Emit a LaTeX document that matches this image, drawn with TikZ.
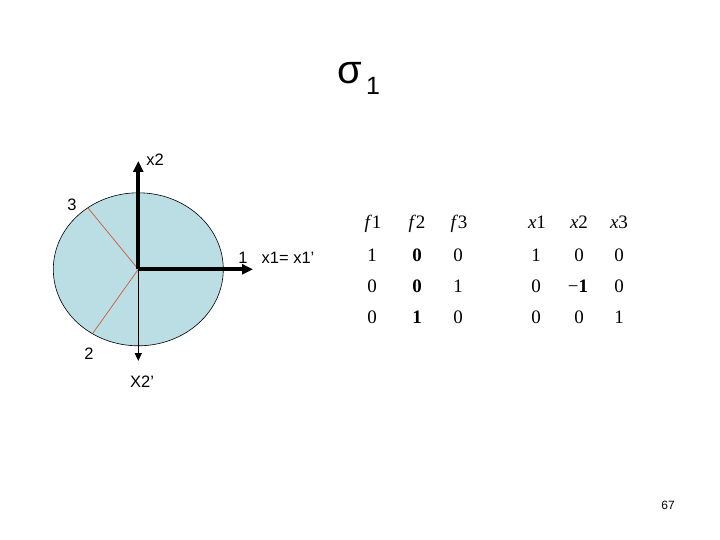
\documentclass[tikz,border=0pt]{standalone}
\usepackage{fontspec}
\setmainfont{Liberation Sans}
\newfontfamily\tabfont{Liberation Serif}
\usetikzlibrary{arrows.meta,shapes.geometric}
\definecolor{discblue}{RGB}{186,222,227}
\definecolor{cutred}{RGB}{204,90,60}
\newcommand{\tv}[3][0pt]{{\itshape #2}\kern#1#3}

\begin{document}
\begin{tikzpicture}[x=1pt,y=-1pt]
\tikzset{
  disc/.style={ellipse,draw=black,line width=0.6pt,fill=discblue,minimum width=170pt,minimum height=153pt,inner sep=0pt},
  cutline/.style={draw=cutred,line width=0.7pt},
  mainaxis/.style={draw=black,line width=4pt,-{Triangle[length=11pt,width=10pt]}},
  thinaxis/.style={draw=black,line width=1.5pt,-{Triangle[length=8pt,width=7pt]}},
  axislabel/.style={font=\fontsize{16.5}{16.5}\selectfont,inner sep=0pt,anchor=base},
  entry/.style={font=\tabfont\fontsize{19}{19}\selectfont,inner sep=0pt,anchor=base}
}
\useasboundingbox (0,0) rectangle (720,540);
% disc and axes
\node[disc] (n_disc) at (138.3,269.3) {};
\coordinate (n_o) at (138.3,269.3);
\coordinate (n_up) at (138.3,161);
\coordinate (n_right) at (253,269.3);
\coordinate (n_down) at (138.3,361);
\coordinate (n_cut_3) at (88,208);
\coordinate (n_cut_2) at (93,333);
\draw[cutline] (n_o) -- (n_cut_3);
\draw[cutline] (n_o) -- (n_cut_2);
\draw[thinaxis] (n_o) -- (n_down);
\draw[mainaxis] (n_o) -- (n_up);
\draw[mainaxis] (n_o) -- (n_right);
% labels
\node[axislabel] (l_x2) at (155,166) {x2};
\node[axislabel] (l_3) at (72,211) {3};
\node[axislabel] (l_1) at (243,263) {1};
\node[axislabel] (l_x1) at (288,263) {x1= x1’};
\node[axislabel] (l_2) at (89,359) {2};
\node[axislabel] (l_x2p) at (142,387) {X2’};
% title
\node[font=\fontsize{40}{40}\selectfont,anchor=base west,inner sep=0pt] (n_sigma) at (337,84) {σ};
\node[font=\fontsize{25}{25}\selectfont,anchor=base west,inner sep=0pt] (n_sub) at (366,95) {1};
% table
\node[entry] (t_f1) at (373,229) {\tv[2pt]{f}{1}};
\node[entry] (t_f2) at (417,229) {\tv[2pt]{f}{2}};
\node[entry] (t_f3) at (459,229) {\tv[2pt]{f}{3}};
\node[entry] (t_x1) at (537,229) {\tv{x}{1}};
\node[entry] (t_x2) at (579,229) {\tv{x}{2}};
\node[entry] (t_x3) at (619,229) {\tv{x}{3}};
\node[entry] (t_a11) at (372,261) {1};
\node[entry] (t_a12) at (417,261) {\textbf{0}};
\node[entry] (t_a13) at (458,261) {0};
\node[entry] (t_a21) at (372,292) {0};
\node[entry] (t_a22) at (417,292) {\textbf{0}};
\node[entry] (t_a23) at (458,292) {1};
\node[entry] (t_a31) at (372,323) {0};
\node[entry] (t_a32) at (417,323) {\textbf{1}};
\node[entry] (t_a33) at (458,323) {0};
\node[entry] (t_b11) at (536,261) {1};
\node[entry] (t_b12) at (579,261) {0};
\node[entry] (t_b13) at (619,261) {0};
\node[entry] (t_b21) at (536,292) {0};
\node[entry] (t_b22) at (578,292) {−\textbf{1}};
\node[entry] (t_b23) at (619,292) {0};
\node[entry] (t_b31) at (536,323) {0};
\node[entry] (t_b32) at (579,323) {0};
\node[entry] (t_b33) at (619,323) {1};
% page number
\node[font=\fontsize{12}{12}\selectfont,inner sep=0pt,anchor=base] (n_page) at (668,509) {67};
\end{tikzpicture}
\end{document}
